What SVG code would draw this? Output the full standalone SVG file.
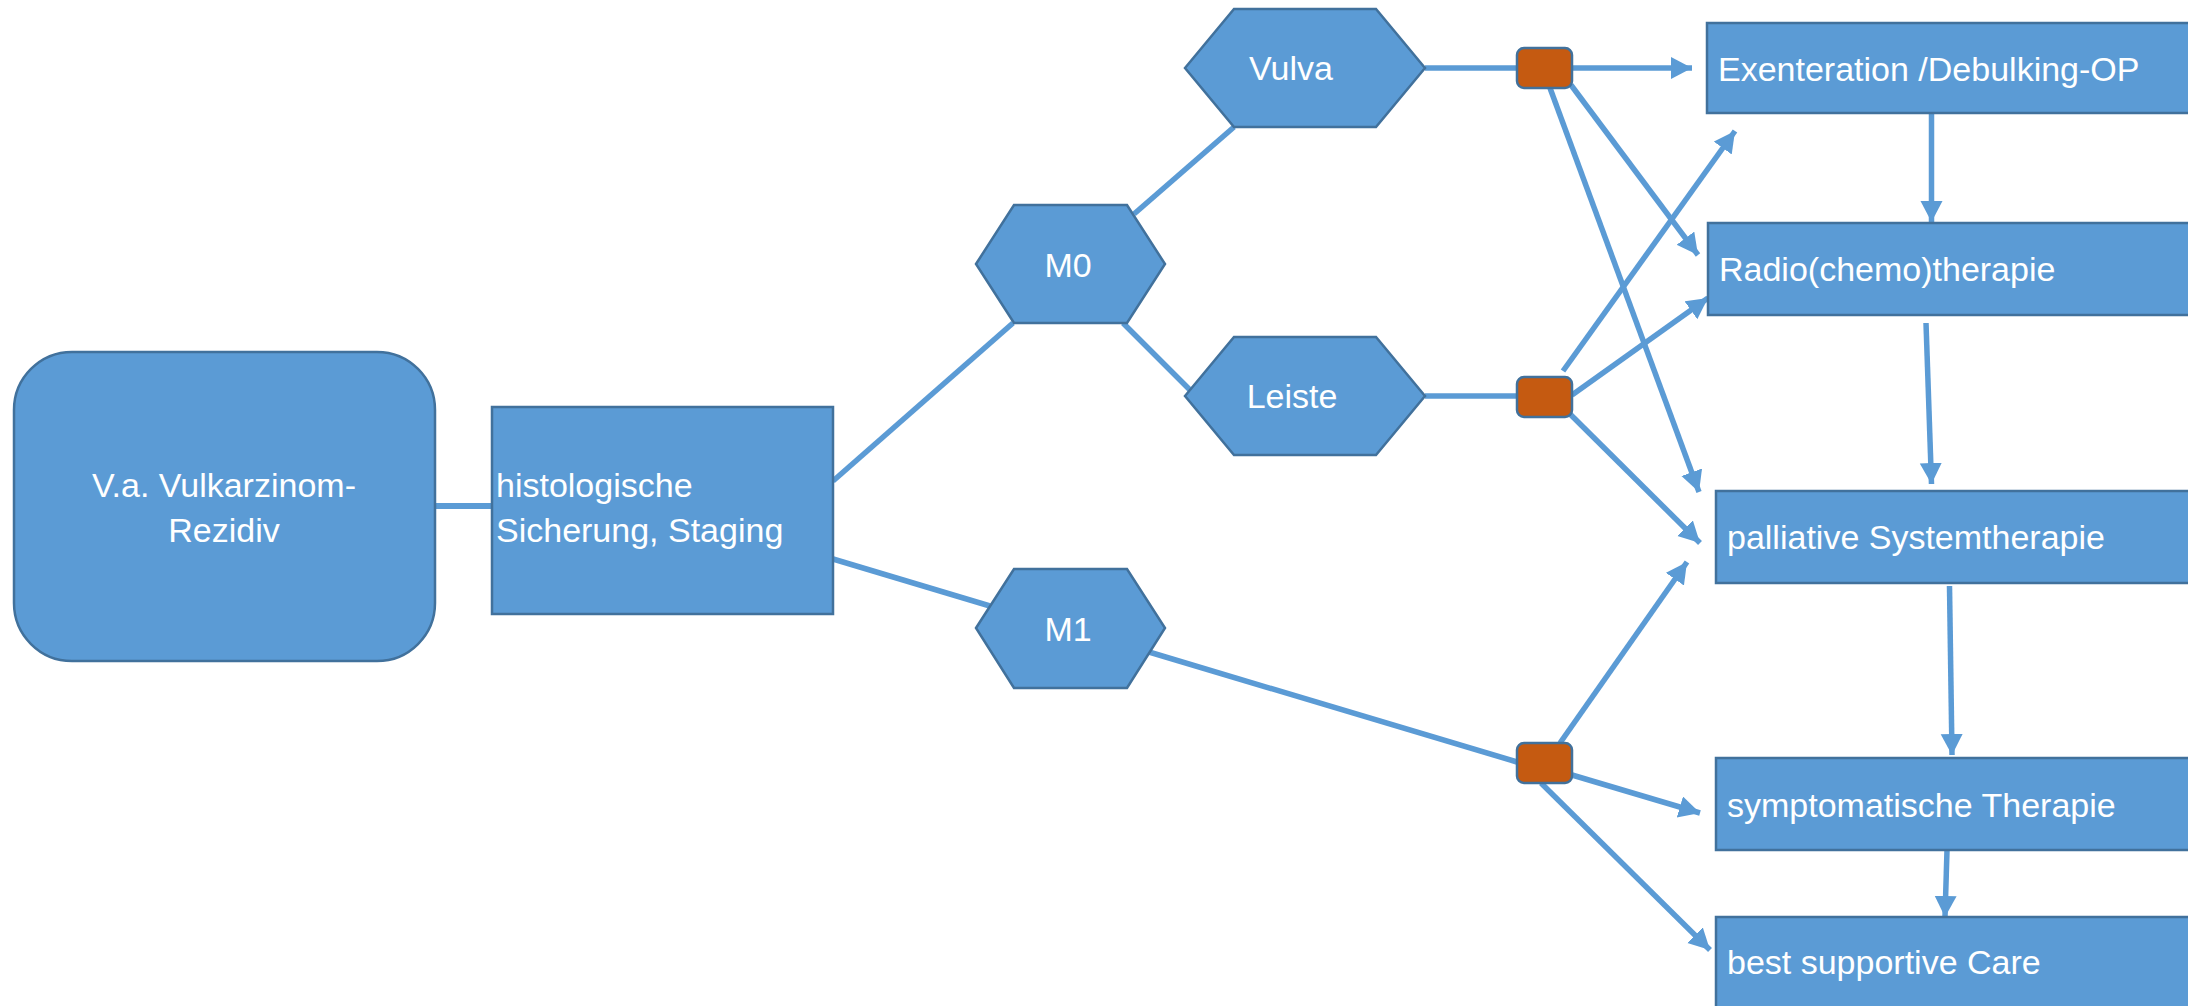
<svg xmlns="http://www.w3.org/2000/svg" width="2188" height="1006" viewBox="0 0 2188 1006">
<style>
.n{fill:#5B9BD5;stroke:#41719C;stroke-width:2.5}
.j{fill:#C55A11;stroke:#41719C;stroke-width:2.5}
.t{font-family:"Liberation Sans",Arial,sans-serif;font-size:34px;fill:#FFFFFF}
.m{text-anchor:middle}
.c{stroke:#5B9BD5;stroke-width:5.5;fill:none}
.a{marker-end:url(#arr)}
</style>
<defs>
<marker id="arr" markerUnits="userSpaceOnUse" markerWidth="24" markerHeight="24" refX="21" refY="11" orient="auto">
<path d="M0,0 L21,11 L0,22 z" fill="#5B9BD5"/>
</marker>
</defs>
<g id="connectors">
<line class="c" x1="435" y1="506" x2="492" y2="506" style="stroke-width:6"/>
<line class="c" x1="833" y1="481" x2="1013" y2="323"/>
<line class="c" x1="833" y1="559" x2="990" y2="606"/>
<line class="c" x1="1134" y1="214" x2="1234" y2="127"/>
<line class="c" x1="1123" y1="323" x2="1190" y2="390"/>
<line class="c" x1="1425" y1="68" x2="1517" y2="68"/>
<line class="c a" x1="1572" y1="68" x2="1692" y2="68"/>
<line class="c a" x1="1571" y1="85" x2="1698" y2="255"/>
<line class="c a" x1="1550" y1="88" x2="1699" y2="492"/>
<line class="c" x1="1425" y1="396" x2="1517" y2="396"/>
<line class="c a" x1="1563" y1="371" x2="1735" y2="131"/>
<line class="c a" x1="1572" y1="395" x2="1708" y2="298"/>
<line class="c a" x1="1570" y1="414" x2="1700" y2="543"/>
<line class="c" x1="1149" y1="652" x2="1517" y2="762"/>
<line class="c a" x1="1560" y1="743" x2="1687" y2="562"/>
<line class="c a" x1="1572" y1="775" x2="1700" y2="813"/>
<line class="c a" x1="1541" y1="783" x2="1710" y2="950"/>
<line class="c a" x1="1931.5" y1="113" x2="1931.5" y2="222"/>
<line class="c a" x1="1926" y1="323" x2="1931.5" y2="484"/>
<line class="c a" x1="1949.5" y1="586" x2="1952" y2="755"/>
<line class="c a" x1="1947" y1="850" x2="1945" y2="917"/>
</g>
<g id="n-start">
<rect class="n" x="14" y="352" width="421" height="309" rx="58" ry="58"/>
<text class="t m" x="224" y="497">V.a. Vulkarzinom-</text>
<text class="t m" x="224" y="542">Rezidiv</text>
</g>
<g id="n-histo">
<rect class="n" x="492" y="407" width="341" height="207"/>
<text class="t" x="496" y="497">histologische</text>
<text class="t" x="496" y="542">Sicherung, Staging</text>
</g>
<g id="n-m0">
<polygon class="n" points="976,264 1014,205 1127,205 1165,264 1127,323 1014,323"/>
<text class="t m" x="1068" y="277">M0</text>
</g>
<g id="n-m1">
<polygon class="n" points="976,628 1014,569 1127,569 1165,628 1127,688 1014,688"/>
<text class="t m" x="1068" y="641">M1</text>
</g>
<g id="n-vulva">
<polygon class="n" points="1185,68 1234,9 1376,9 1425,68 1376,127 1234,127"/>
<text class="t m" x="1291" y="80">Vulva</text>
</g>
<g id="n-leiste">
<polygon class="n" points="1185,396 1234,337 1376,337 1425,396 1376,455 1234,455"/>
<text class="t m" x="1292" y="408">Leiste</text>
</g>
<g id="j-vulva"><rect class="j" x="1517" y="48" width="55" height="40" rx="7"/></g>
<g id="j-leiste"><rect class="j" x="1517" y="377" width="55" height="40" rx="7"/></g>
<g id="j-m1"><rect class="j" x="1517" y="743" width="55" height="40" rx="7"/></g>
<g id="n-exen">
<rect class="n" x="1707" y="23" width="500" height="90"/>
<text class="t" x="1718" y="81">Exenteration /Debulking-OP</text>
</g>
<g id="n-radio">
<rect class="n" x="1708" y="223" width="500" height="92"/>
<text class="t" x="1719" y="281">Radio(chemo)therapie</text>
</g>
<g id="n-pall">
<rect class="n" x="1716" y="491" width="500" height="92"/>
<text class="t" x="1727" y="549">palliative Systemtherapie</text>
</g>
<g id="n-sympt">
<rect class="n" x="1716" y="758" width="500" height="92"/>
<text class="t" x="1727" y="817">symptomatische Therapie</text>
</g>
<g id="n-bsc">
<rect class="n" x="1716" y="917" width="500" height="110"/>
<text class="t" x="1727" y="974">best supportive Care</text>
</g>
</svg>
